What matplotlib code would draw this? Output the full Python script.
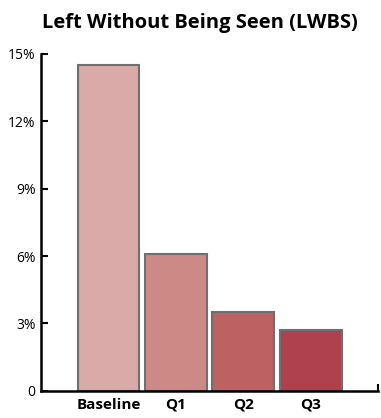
import matplotlib.pyplot as plt
from matplotlib.ticker import FuncFormatter

categories = ['Baseline', 'Q1', 'Q2', 'Q3']
lwbs_rate = [14.5, 6.1, 3.5, 2.7]
bar_colors = ['#d9aaa7', '#cd8985', '#bd6163', '#ae414d']
y_ticks = [0, 3, 6, 9, 12, 15]

plt.rcParams['font.family'] = ['Open Sans', 'DejaVu Sans']

fig = plt.figure(figsize=(3.81, 4.18), dpi=100)
ax = fig.add_axes([0.108, 0.065, 0.884, 0.806])

x = range(len(categories))
ax.bar(x, lwbs_rate, width=0.92, color=bar_colors,
       edgecolor='#6f6f6f', linewidth=1.5, zorder=3)

ax.set_xlim(-1, 4)
ax.set_ylim(0, 15)
ax.set_yticks(y_ticks)
ax.yaxis.set_major_formatter(FuncFormatter(lambda v, p: '0' if v == 0 else f'{v:.0f}%'))
ax.tick_params(axis='y', direction='in', length=5, width=1.5, labelsize=10, pad=4)

ax.set_xticks(list(x))
ax.set_xticklabels(categories, fontweight='bold', fontsize=11)
ax.tick_params(axis='x', length=0, pad=5)
# little upturned tick closing off the x axis
ax.set_xticks([4], minor=True)
ax.tick_params(axis='x', which='minor', direction='in', length=5, width=1.5)

for side in ['top', 'right']:
    ax.spines[side].set_visible(False)
for side in ['left', 'bottom']:
    ax.spines[side].set_linewidth(1.8)
    ax.spines[side].set_zorder(4)

fig.text(0.525, 0.945, 'Left Without Being Seen (LWBS)', ha='center', va='center',
         fontsize=14.5, fontweight='bold')

fig.savefig('out.png', dpi=100)
